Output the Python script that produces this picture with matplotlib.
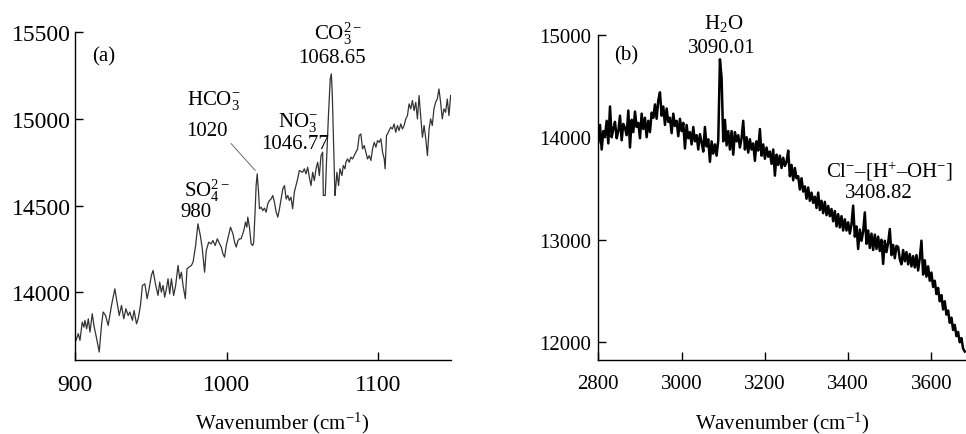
import numpy as np
import matplotlib
matplotlib.use('Agg')
import matplotlib.pyplot as plt

# panel (a): 900-1150 cm-1 region
wn_a = [900.0, 900.7, 902.2, 903.3, 904.8, 905.9, 906.6, 907.7, 908.8, 909.9,
        911.4, 912.5, 914.3, 916.0, 917.5, 918.6, 920.2, 921.9, 924.1, 926.3,
        927.4, 929.2, 930.7, 932.2, 933.6, 935.1, 936.2, 937.9, 939.0, 940.6,
        941.7, 943.2, 944.5, 946.1, 947.6, 948.9, 950.4, 951.5, 953.3, 954.8,
        955.9, 957.0, 958.1, 959.2, 960.3, 961.4, 962.5, 963.6, 965.1, 966.4,
        968.0, 969.1, 970.2, 971.3, 972.8, 973.9, 975.2, 976.8, 977.9, 979.6,
        981.1, 982.7, 984.0, 985.5, 986.6, 988.2, 989.9, 991.0, 992.5, 993.9,
        995.4, 996.5, 997.6, 998.7, 999.8, 1001.3, 1002.6, 1004.2, 1005.3, 1006.4,
        1007.5, 1008.6, 1009.6, 1011.4, 1012.5, 1013.4, 1014.0, 1015.1, 1016.2, 1017.3,
        1017.9, 1018.9, 1019.5, 1020.2, 1021.1, 1021.7, 1022.8, 1023.9, 1025.0, 1026.1,
        1027.2, 1028.3, 1029.4, 1030.5, 1031.6, 1032.7, 1033.8, 1034.9, 1036.0, 1037.1,
        1038.2, 1039.3, 1040.4, 1041.4, 1042.5, 1043.6, 1044.7, 1045.8, 1046.9, 1048.0,
        1050.2, 1051.3, 1052.4, 1053.5, 1054.6, 1055.7, 1056.8, 1057.9, 1059.0, 1060.1,
        1061.2, 1062.3, 1063.4, 1063.8, 1065.1, 1066.0, 1067.3, 1068.4, 1069.1, 1069.7,
        1070.6, 1071.5, 1072.1, 1072.8, 1073.9, 1074.8, 1076.1, 1077.0, 1078.1, 1078.7,
        1079.8, 1080.9, 1082.0, 1083.1, 1084.2, 1085.3, 1086.4, 1087.5, 1088.6, 1089.7,
        1090.8, 1091.9, 1093.0, 1094.1, 1095.2, 1096.3, 1097.4, 1098.5, 1099.6, 1100.7,
        1101.8, 1102.9, 1104.0, 1104.6, 1105.5, 1106.1, 1107.2, 1108.3, 1109.4, 1110.5,
        1111.6, 1112.7, 1113.8, 1114.9, 1116.0, 1117.1, 1118.2, 1119.3, 1120.4, 1121.5,
        1122.6, 1123.7, 1124.8, 1125.9, 1127.0, 1128.1, 1129.2, 1130.3, 1131.4, 1132.5,
        1133.6, 1134.6, 1135.7, 1136.8, 1137.9, 1139.0, 1140.1, 1141.2, 1142.3, 1143.4,
        1144.5, 1145.6, 1146.7, 1147.8]
int_a = [13712, 13721, 13760, 13721, 13827, 13798, 13837, 13788, 13846, 13769,
         13875, 13808, 13731, 13654, 13808, 13885, 13865, 13808, 13923, 14019,
         13962, 13865, 13923, 13846, 13904, 13865, 13885, 13837, 13894, 13817,
         13846, 13923, 14038, 14048, 13962, 14019, 14096, 14125, 14038, 13981,
         14058, 14000, 14038, 13971, 14019, 14077, 13990, 14077, 13981, 14038,
         14154, 14077, 14115, 14038, 13962, 14135, 14144, 14154, 14173, 14269,
         14394, 14327, 14250, 14115, 14240, 14288, 14279, 14298, 14269, 14308,
         14279, 14260, 14221, 14202, 14269, 14327, 14375, 14337, 14288, 14260,
         14298, 14308, 14308, 14356, 14404, 14375, 14433, 14375, 14279, 14269,
         14288, 14481, 14615, 14683, 14577, 14481, 14490, 14471, 14485, 14462,
         14510, 14529, 14538, 14558, 14519, 14462, 14433, 14481, 14538, 14596,
         14615, 14538, 14558, 14529, 14548, 14481, 14577, 14615, 14654, 14702,
         14692, 14712, 14683, 14721, 14663, 14615, 14692, 14644, 14712, 14750,
         14673, 14788, 14808, 14558, 14558, 14769, 15038, 15231, 15260, 15154,
         14865, 14558, 14615, 14692, 14615, 14712, 14673, 14731, 14712, 14750,
         14769, 14750, 14779, 14769, 14788, 14808, 14827, 14904, 14913, 14827,
         14846, 14808, 14769, 14788, 14760, 14827, 14865, 14837, 14875, 14865,
         14885, 14808, 14769, 14712, 14904, 14913, 14933, 14952, 14942, 14971,
         14923, 14962, 14933, 14971, 14942, 14962, 15000, 15019, 15087, 15058,
         15106, 15048, 15096, 15000, 15135, 15010, 14894, 14962, 14885, 14788,
         14942, 15000, 14962, 15058, 15096, 15115, 15173, 15096, 15000, 15058,
         15038, 15115, 15019, 15135]

# panel (b): 2800-3680 cm-1, one reading every 4 cm-1
wn_b = np.arange(2800, 3684, 4)
int_b = [13950, 14120, 13880, 14060, 14010, 14160, 13940, 14300, 14000, 14080,
         14150, 13990, 14060, 14210, 13970, 14130, 14090, 14020, 14260, 13900,
         14170, 14050, 14250, 14100, 14140, 13990, 14230, 14080, 14190, 14000,
         14160, 14050, 14240, 14190, 14320, 14180, 14360, 14438, 14210, 14300,
         14120, 14280, 14150, 14190, 14040, 14230, 14110, 14160, 14010, 14180,
         14060, 14140, 13890, 14120, 13990, 14050, 13930, 14100, 13960, 14020,
         13880, 14030, 13950, 13860, 14100, 13910, 13980, 13760, 13960, 13840,
         13930, 13820, 13970, 14760, 14580, 13960, 14170, 13920, 14060, 13880,
         14060, 13830, 14050, 13960, 14020, 13900, 13990, 14160, 13880, 14000,
         13850, 13980, 13880, 13940, 13770, 13960, 13870, 14080, 13820, 13930,
         13790, 13900, 13810, 13860, 13740, 13880, 13625, 13830, 13730, 13820,
         13700, 13800, 13720, 13760, 13869, 13620, 13730, 13580, 13700, 13600,
         13620, 13490, 13600, 13470, 13520, 13400, 13510, 13380, 13460, 13360,
         13420, 13310, 13460, 13290, 13380, 13260, 13370, 13240, 13330, 13230,
         13300, 13180, 13280, 13130, 13250, 13120, 13230, 13090, 13200, 13090,
         13170, 13060, 13150, 13333, 13030, 13130, 12910, 13100, 12990, 13080,
         13267, 12960, 13090, 12920, 13060, 12900, 13050, 12910, 13030, 12890,
         13000, 12764, 12990, 12880, 12970, 13105, 12850, 12950, 12820, 12940,
         12930, 12810, 12760, 12900, 12790, 12880, 12760, 12860, 12740, 12840,
         12730, 12850, 12700, 12820, 12991, 12660, 12800, 12640, 12740, 12600,
         12680, 12540, 12600, 12470, 12530, 12400, 12460, 12320, 12400, 12270,
         12310, 12190, 12240, 12120, 12170, 12060, 12100, 12000, 12040, 11940,
         11910]

plt.rcParams['font.family'] = ['Liberation Serif', 'DejaVu Serif']
plt.rcParams['mathtext.fontset'] = 'custom'
plt.rcParams['mathtext.rm'] = 'Liberation Serif'
plt.rcParams['mathtext.it'] = 'Liberation Serif:italic'
plt.rcParams['mathtext.bf'] = 'Liberation Serif:bold'
fs = 15

fig = plt.figure(figsize=(9.66, 4.35), dpi=100)
ax1 = fig.add_axes([0.0776, 0.1701, 0.3892, 0.7533])
ax2 = fig.add_axes([0.6194, 0.1701, 0.3806, 0.7478])

for ax in (ax1, ax2):
    ax.spines['top'].set_visible(False)
    ax.spines['right'].set_visible(False)
    ax.spines['left'].set_linewidth(1.0)
    ax.spines['bottom'].set_linewidth(1.0)
    ax.tick_params(direction='in', length=6, width=1.0, labelsize=fs)
    ax.set_xlabel('Wavenumber (cm$^{-1}$)', fontsize=fs)

ax1.plot(wn_a, int_a, color='#333333', lw=0.9)
ax1.set_xlim(900, 1148)
ax1.set_ylim(13608, 15500)
ax1.set_xticks([900, 1000, 1100])
ax1.set_yticks([14000, 14500, 15000, 15500])
ax1.tick_params(labelsize=17)
ax1.tick_params(axis='y', pad=3)
ax1.tick_params(axis='x', pad=10)
ax1.xaxis.set_label_coords(0.55, -0.152)

ax1.text(919, 15363, '(a)', fontsize=fs, ha='center', va='center')
ax1.text(1073.7, 15500, 'CO$_3^{2-}$', fontsize=fs, ha='center', va='center')
ax1.text(1069.7, 15357, '1068.65', fontsize=fs, ha='center', va='center')
ax1.text(991.4, 15114, 'HCO$_3^{-}$', fontsize=fs, ha='center', va='center')
ax1.annotate('1020', xy=(1020.2, 14690), xytext=(987, 14935), fontsize=fs,
             ha='center', va='center',
             arrowprops=dict(arrowstyle='-', lw=0.6, color='#555555',
                             relpos=(1.0, 0.0), shrinkA=1, shrinkB=2))
ax1.text(1047.4, 14987, 'NO$_3^{-}$', fontsize=fs, ha='center', va='center')
ax1.text(1045.4, 14860, '1046.77', fontsize=fs, ha='center', va='center')
ax1.text(987, 14594, 'SO$_4^{2-}$', fontsize=fs, ha='center', va='center')
ax1.text(979.6, 14467, '980', fontsize=fs, ha='center', va='center')

ax2.plot(wn_b, int_b, color='black', lw=1.8)
ax2.set_xlim(2800, 3683)
ax2.set_ylim(11827, 15000)
ax2.set_xticks([2800, 3000, 3200, 3400, 3600])
ax2.set_yticks([12000, 13000, 14000, 15000])
ax2.tick_params(axis='y', pad=5)
ax2.tick_params(axis='x', pad=10)
ax2.xaxis.set_label_coords(0.5, -0.152)

ax2.text(2866, 14800, '(b)', fontsize=fs, ha='center', va='center')
ax2.text(3101.7, 15124, 'H$_2$O', fontsize=fs, ha='center', va='center', clip_on=False)
ax2.text(3096, 14880, '3090.01', fontsize=fs, ha='center', va='center')
ax2.text(3499, 13680, 'Cl$^{-}$\u2013[H$^{+}$\u2013OH$^{-}$]', fontsize=fs,
         ha='center', va='center')
ax2.text(3474, 13465, '3408.82', fontsize=fs, ha='center', va='center')

fig.savefig('out.png', dpi=100)
